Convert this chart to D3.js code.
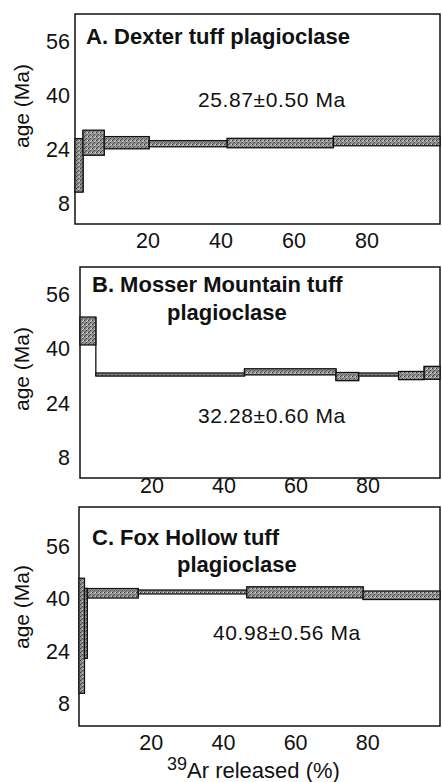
<!DOCTYPE html>
<html>
<head>
<meta charset="utf-8">
<script src="https://cdn.jsdelivr.net/npm/d3@7"></script>
<style>
  body { margin: 0; background: #fff; }
  svg { display: block; font-family: "Liberation Sans", Arial, sans-serif; }
</style>
</head>
<body>
<div id="chart"></div>
<script>
const xTicks = [20, 40, 60, 80]
const yTicks = [8, 24, 40, 56]

// A. Dexter tuff: cumulative 39Ar (%) step edges, step ages and 1 sigma (Ma)
const cumA = [0, 2.2, 8, 20.3, 41.7, 70.8, 100]
const ageA = [19.3, 26.0, 26.0, 25.7, 25.9, 26.5]
const errA = [7.9, 3.7, 1.8, 0.9, 1.4, 1.4]

// B. Mosser Mountain tuff
const cumB = [0, 4.4, 45.7, 71.1, 77.4, 88.5, 95.6, 100]
const ageB = [45.2, 32.4, 33.2, 31.8, 32.4, 32.1, 32.9]
const errB = [4.1, 0.45, 0.9, 1.2, 0.45, 1.2, 1.9]

// C. Fox Hollow tuff
const cumC = [0, 1.5, 2.3, 16.4, 46.5, 78.7, 100]
const ageC = [28.6, 32.4, 41.6, 42.0, 41.9, 41.0]
const errC = [17.6, 10.7, 1.45, 0.6, 1.7, 1.3]

const titles = [
  ['A. Dexter tuff plagioclase'],
  ['B. Mosser Mountain tuff', 'plagioclase'],
  ['C. Fox Hollow tuff', 'plagioclase']
]
const plateaus = ['25.87±0.50 Ma', '32.28±0.60 Ma', '40.98±0.56 Ma']

const W = 442, H = 782

var svg = d3.select('#chart')
  .append('svg')
  .attr('width', W)
  .attr('height', H)

// stipple texture for the step boxes
var defs = svg.append('defs')
var pat = defs.append('pattern')
  .attr('id', 'stipple')
  .attr('width', 4).attr('height', 4)
  .attr('patternUnits', 'userSpaceOnUse')
pat.append('rect').attr('width', 4).attr('height', 4).attr('fill', '#8e8e8e')
pat.append('rect').attr('x', 0).attr('y', 0).attr('width', 1).attr('height', 1).attr('fill', '#3a3a3a')
pat.append('rect').attr('x', 2).attr('y', 2).attr('width', 1).attr('height', 1).attr('fill', '#4a4a4a')
pat.append('rect').attr('x', 3).attr('y', 0).attr('width', 1).attr('height', 1).attr('fill', '#d4d4d4')
pat.append('rect').attr('x', 1).attr('y', 3).attr('width', 1).attr('height', 1).attr('fill', '#5a5a5a')
pat.append('rect').attr('x', 2).attr('y', 1).attr('width', 1).attr('height', 1).attr('fill', '#c8c8c8')

var panels = [
  { cum: cumA, age: ageA, err: errA, left: 75, right: 440, top: 14, bottom: 224, yDom: [2, 64],
    xLab: 24, titleX: 86, titleY: [44], titleX2: 0, plat: [198, 107], ylabY: 106 },
  { cum: cumB, age: ageB, err: errB, left: 80, right: 440, top: 267, bottom: 478, yDom: [2, 64],
    xLab: 15, titleX: 92, titleY: [292, 320], titleX2: 167, plat: [198, 423], ylabY: 369 },
  { cum: cumC, age: ageC, err: errC, left: 79, right: 440, top: 507, bottom: 726, yDom: [1, 68],
    xLab: 24, titleX: 92, titleY: [545, 572], titleX2: 177, plat: [213, 640], ylabY: 607 }
]

panels.forEach(function(p, k) {
  var x = d3.scaleLinear().domain([0, 100]).range([p.left, p.right])
  var y = d3.scaleLinear().domain(p.yDom).range([p.bottom, p.top])
  var g = svg.append('g')

  // frame
  g.append('rect')
    .attr('x', p.left).attr('y', p.top)
    .attr('width', p.right - p.left).attr('height', p.bottom - p.top)
    .attr('fill', 'none')
    .attr('stroke', '#111')
    .attr('stroke-width', 1.5)

  var steps = p.age.map(function(a, i) {
    return { x0: p.cum[i], x1: p.cum[i + 1], hi: a + p.err[i], lo: a - p.err[i] }
  })

  // vertical risers between steps
  g.selectAll('.riser')
    .data(steps.slice(1))
    .enter().append('line')
    .attr('class', 'riser')
    .attr('x1', function(d) { return x(d.x0) })
    .attr('x2', function(d) { return x(d.x0) })
    .attr('y1', function(d, i) { return y(Math.max(d.hi, steps[i].hi)) })
    .attr('y2', function(d, i) { return y(Math.min(d.lo, steps[i].lo)) })
    .attr('stroke', '#111')
    .attr('stroke-width', 1.3)

  g.selectAll('.step')
    .data(steps)
    .enter().append('rect')
    .attr('class', 'step')
    .attr('x', function(d) { return x(d.x0) })
    .attr('y', function(d) { return y(d.hi) })
    .attr('width', function(d) { return x(d.x1) - x(d.x0) })
    .attr('height', function(d) { return y(d.lo) - y(d.hi) })
    .attr('fill', 'url(#stipple)')
    .attr('stroke', '#111')
    .attr('stroke-width', 1.3)

  // y tick labels
  g.selectAll('.ytick')
    .data(yTicks)
    .enter().append('text')
    .attr('x', 70)
    .attr('y', function(d) { return y(d) })
    .attr('dy', '0.36em')
    .attr('text-anchor', 'end')
    .attr('font-size', 21.5)
    .attr('fill', '#111')
    .text(function(d) { return d })

  // x tick labels
  g.selectAll('.xtick')
    .data(xTicks)
    .enter().append('text')
    .attr('x', function(d) { return x(d) })
    .attr('y', p.bottom + p.xLab)
    .attr('text-anchor', 'middle')
    .attr('font-size', 21.5)
    .attr('fill', '#111')
    .text(function(d) { return d })

  // y axis label
  g.append('text')
    .attr('transform', 'translate(29,' + p.ylabY + ') rotate(-90)')
    .attr('text-anchor', 'middle')
    .attr('font-size', 21)
    .attr('fill', '#111')
    .text('age (Ma)')

  // panel title
  titles[k].forEach(function(t, j) {
    g.append('text')
      .attr('x', j === 0 ? p.titleX : p.titleX2)
      .attr('y', p.titleY[j])
      .attr('font-size', 22)
      .attr('font-weight', 'bold')
      .attr('fill', '#111')
      .text(t)
  })

  // plateau age
  g.append('text')
    .attr('x', p.plat[0])
    .attr('y', p.plat[1])
    .attr('font-size', 21)
    .attr('letter-spacing', 0.6)
    .attr('fill', '#111')
    .text(plateaus[k])
})

// x axis title
var xt = svg.append('text')
  .attr('x', 167)
  .attr('y', 778)
  .attr('font-size', 22)
  .attr('fill', '#111')
xt.append('tspan').attr('font-size', 18).attr('dy', -8).text('39')
xt.append('tspan').attr('font-size', 22).attr('dy', 8).text('Ar released (%)')
</script>
</body>
</html>
